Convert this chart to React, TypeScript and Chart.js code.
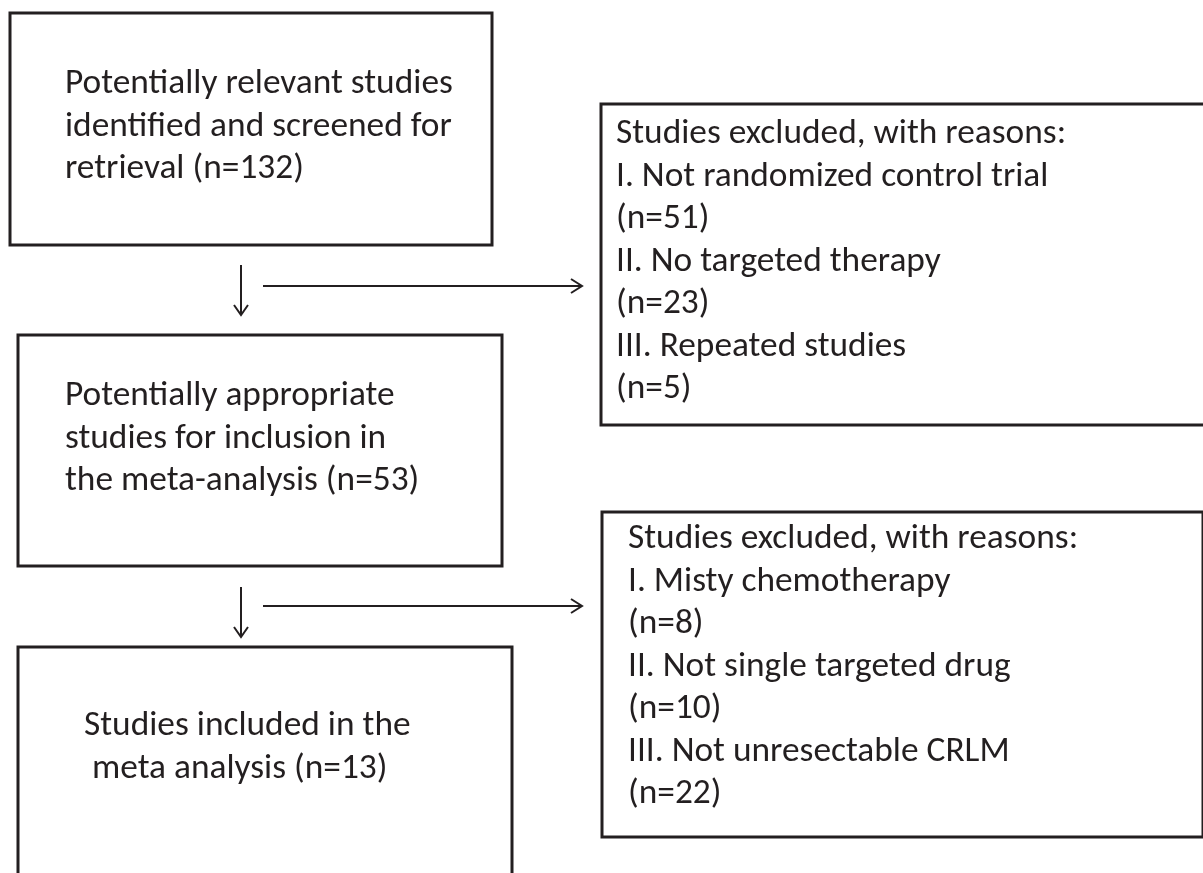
import React, { useEffect, useRef } from "react";
import { Chart, registerables } from "chart.js";

Chart.register(...registerables);

const W = 1203;
const H = 873;

// ---------- data ----------
const mainStageLines: string[][] = [
  ["Potentially relevant studies", "identified and screened for", "retrieval"],
  ["Potentially appropriate", "studies for inclusion in", "the meta-analysis"],
  ["Studies included in the", " meta analysis"],
];
const mainStageCounts = [132, 53, 13];

const exclusionHeader = "Studies excluded, with reasons:";
const exclusionNumerals = ["I.", "II.", "III."];
const exclusionReasons1 = ["Not randomized control trial", "No targeted therapy", "Repeated studies"];
const exclusionCounts1 = [51, 23, 5];
const exclusionReasons2 = ["Misty chemotherapy", "Not single targeted drug", "Not unresectable CRLM"];
const exclusionCounts2 = [8, 10, 22];

// ---------- layout (positions in scale units) ----------
const mainBoxes = [
  { x0: 10, y0: 13, x1: 492, y1: 245, tx: 65, ty: 93 },
  { x0: 18, y0: 335, x1: 502, y1: 566, tx: 65, ty: 405 },
  { x0: 18, y0: 647, x1: 512, y1: 905, tx: 84, ty: 735 },
];
const sideBoxes = [
  { x0: 601, y0: 104, x1: 1212, y1: 425, tx: 616, ty: 143 },
  { x0: 602, y0: 512, x1: 1203, y1: 837, tx: 628, ty: 548 },
];
const arrows = [
  { vx: 241, vy0: 265, vy1: 315, hy: 286, hx0: 263, hx1: 582 },
  { vx: 241, vy0: 587, vy1: 637, hy: 606, hx0: 263, hx1: 582 },
];
const LINE_GAP = 42.5;
const INK = "#231f20";
const FAMILY = '"Carlito", "Lato", "Open Sans", sans-serif';

const flowPlugin = {
  id: "flowDiagram",
  beforeDraw(chart: any) {
    const { ctx } = chart;
    ctx.save();
    ctx.fillStyle = "#ffffff";
    ctx.fillRect(0, 0, chart.width, chart.height);
    ctx.restore();
  },
  afterDraw(chart: any) {
    const { ctx, scales } = chart;
    const X = (v: number) => scales.x.getPixelForValue(v);
    const Y = (v: number) => scales.y.getPixelForValue(v);

    ctx.save();
    // fit font so that the first line matches the reference width
    ctx.font = `35px ${FAMILY}`;
    const w = ctx.measureText(mainStageLines[0][0]).width;
    const size = (35 * (X(453) - X(65))) / w;
    const font = `${size}px ${FAMILY}`;

    ctx.strokeStyle = INK;
    ctx.fillStyle = INK;
    ctx.lineJoin = "miter";

    const rect = (b: any) => {
      ctx.lineWidth = 3;
      ctx.strokeRect(X(b.x0), Y(b.y0), X(b.x1) - X(b.x0), Y(b.y1) - Y(b.y0));
    };
    const lines = (b: any, arr: string[]) => {
      ctx.font = font;
      ctx.textBaseline = "alphabetic";
      ctx.textAlign = "left";
      arr.forEach((t, i) => ctx.fillText(t, X(b.tx), Y(b.ty + i * LINE_GAP)));
    };

    mainBoxes.forEach((b, i) => {
      rect(b);
      const arr = mainStageLines[i].slice();
      arr[arr.length - 1] = `${arr[arr.length - 1]} (n=${mainStageCounts[i]})`;
      lines(b, arr);
    });

    const sideData = [
      { reasons: exclusionReasons1, counts: exclusionCounts1 },
      { reasons: exclusionReasons2, counts: exclusionCounts2 },
    ];
    sideBoxes.forEach((b, i) => {
      rect(b);
      const arr = [exclusionHeader];
      sideData[i].reasons.forEach((r, k) => {
        arr.push(`${exclusionNumerals[k]} ${r}`);
        arr.push(`(n=${sideData[i].counts[k]})`);
      });
      lines(b, arr);
    });

    ctx.lineWidth = 2;
    ctx.lineCap = "butt";
    arrows.forEach((a) => {
      ctx.beginPath();
      ctx.moveTo(X(a.vx), Y(a.vy0));
      ctx.lineTo(X(a.vx), Y(a.vy1));
      ctx.stroke();
      ctx.beginPath();
      ctx.moveTo(X(a.vx - 7), Y(a.vy1 - 10));
      ctx.lineTo(X(a.vx), Y(a.vy1));
      ctx.lineTo(X(a.vx + 7), Y(a.vy1 - 10));
      ctx.stroke();

      ctx.beginPath();
      ctx.moveTo(X(a.hx0), Y(a.hy));
      ctx.lineTo(X(a.hx1), Y(a.hy));
      ctx.stroke();
      ctx.beginPath();
      ctx.moveTo(X(a.hx1 - 11), Y(a.hy - 7));
      ctx.lineTo(X(a.hx1), Y(a.hy));
      ctx.lineTo(X(a.hx1 - 11), Y(a.hy + 7));
      ctx.stroke();
    });
    ctx.restore();
  },
};

export default function App() {
  const ref = useRef<HTMLCanvasElement | null>(null);
  useEffect(() => {
    if (!ref.current) return;
    const chart = new Chart(ref.current, {
      type: "scatter",
      data: { datasets: [{ data: [], pointRadius: 0 }] },
      options: {
        animation: false,
        responsive: false,
        devicePixelRatio: 1,
        layout: { padding: 0 },
        scales: {
          x: { type: "linear", min: 0, max: W, display: false },
          y: { type: "linear", min: 0, max: H, reverse: true, display: false },
        },
        plugins: { legend: { display: false }, tooltip: { enabled: false } },
      },
      plugins: [flowPlugin],
    } as any);
    return () => chart.destroy();
  }, []);
  return (
    <div style={{ position: "absolute", left: 0, top: 0, width: W, height: H, background: "#fff" }}>
      <canvas ref={ref} width={W} height={H} style={{ display: "block" }} />
    </div>
  );
}
